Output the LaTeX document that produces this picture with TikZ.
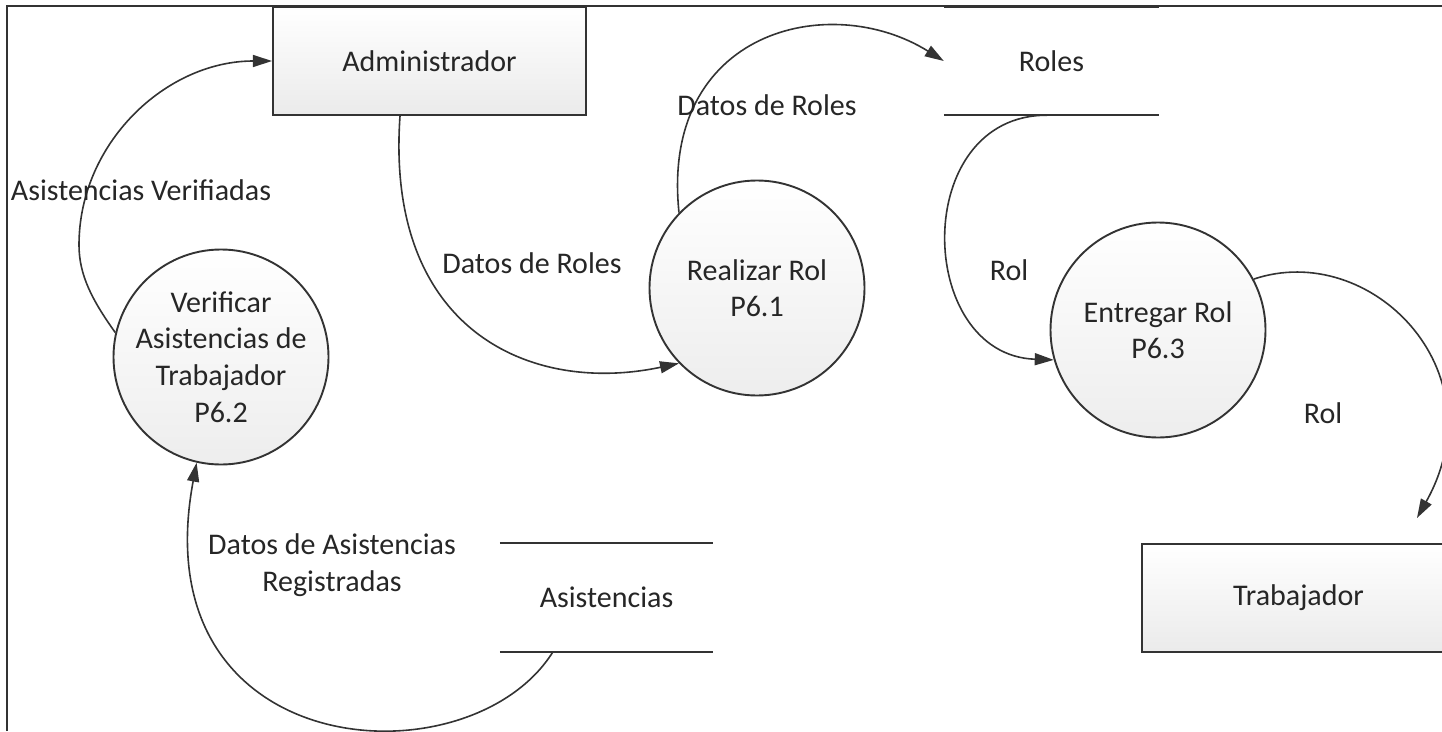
\documentclass[tikz,border=0pt]{standalone}
\usepackage{fontspec}
\setmainfont{Carlito}
\usetikzlibrary{arrows.meta}
\definecolor{ink}{HTML}{333333}
\definecolor{txt}{HTML}{262626}
\begin{document}
\begin{tikzpicture}[x=1pt,y=-1pt,
  every node/.style={font=\fontsize{30}{36.6}\selectfont, text=txt},
  entity/.style={draw=ink, line width=2.1pt, top color=white, bottom color=black!8,
    minimum width=313pt, minimum height=108pt, inner sep=0pt},
  process/.style={circle, draw=ink, line width=1.9pt, top color=white, bottom color=black!7,
    minimum size=215pt, inner sep=0pt, align=center},
  store/.style={minimum width=215pt, minimum height=108pt, inner sep=0pt},
  storeline/.style={draw=ink, line width=2.1pt},
  flow/.style={draw=ink, line width=1.6pt, -{Triangle[length=19pt,width=12pt]}},
  lbl/.style={align=center, inner sep=0pt},
  frame/.style={draw=ink, line width=2pt}]
\useasboundingbox (0,0) rectangle (1442,731);

% outer frame
\draw[frame] (7,731) -- (7,6) -- (1442,6);

% external entities
\node[entity] (adm) at (429.5,61) {Administrador};
\node[entity] (trab) at (1298.5,598) {Trabajador};

% data stores
\node[store] (ro) at (1051.5,61) {Roles};
\draw[storeline] (ro.north west) -- (ro.north east);
\draw[storeline] (ro.south west) -- (ro.south east);
\node[store, minimum width=213pt] (as) at (606.5,597.5) {Asistencias};
\draw[storeline] (as.north west) -- (as.north east);
\draw[storeline] (as.south west) -- (as.south east);

% processes
\node[process] (ver) at (221,357) {Verificar\\Asistencias de\\Trabajador\\P6.2};
\node[process] (rr) at (757,288) {Realizar Rol\\P6.1};
\node[process] (ent) at (1158,330) {Entregar Rol\\P6.3};

% data flows
\draw[flow] (ver.167) .. controls (92,300) and (79,275) .. (79,245)
  .. controls (79,143) and (166,61) .. (adm.west);
\draw[flow] ([xshift=-29.5pt]adm.south) .. controls (385,330) and (530,395) .. (rr.224);
\draw[flow] (rr.136) .. controls (660,30) and (830,-10) .. (ro.west);
\draw[flow] ([xshift=-4.5pt]ro.south) .. controls (910,115) and (915,355) .. (ent.196);
\coordinate (tipT) at (1417,518);
\draw[flow] (ent.28) .. controls (1370,240) and (1500,370) .. (tipT);
\draw[flow] ([xshift=-53.5pt]as.south) .. controls (470,785) and (140,765) .. (ver.257);

% flow labels
\node[lbl] (l1) at (141,190) {Asistencias Verifiadas};
\node[lbl] (l2) at (767,105) {Datos de Roles};
\node[lbl] (l3) at (532,263) {Datos de Roles};
\node[lbl] (l4) at (1009,270) {Rol};
\node[lbl] (l5) at (1323,413) {Rol};
\node[lbl] (l6) at (332,565) {Datos de Asistencias\\Registradas};
\end{tikzpicture}
\end{document}
